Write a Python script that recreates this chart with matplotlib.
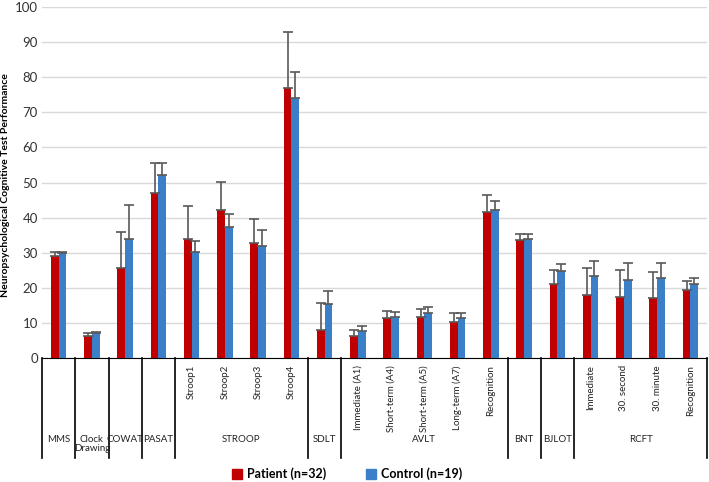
import matplotlib.pyplot as plt
from matplotlib.patches import Patch

plt.rcParams['font.family'] = ['Lato', 'DejaVu Sans']

# test names (one per bar pair) and their groups
sub_labels = ['', '', '', '',
              'Stroop1', 'Stroop2', 'Stroop3', 'Stroop4',
              '',
              'Immediate (A1)', 'Short-term (A4)', 'Short-term (A5)', 'Long-term (A7)', 'Recognition',
              '', '',
              'Immediate', '30. second', '30. minute', 'Recognition']
groups = ['MMS', 'Clock\nDrawing', 'COWAT', 'PASAT', 'STROOP', 'SDLT', 'AVLT', 'BNT', 'BJLOT', 'RCFT']
group_sizes = [1, 1, 1, 1, 4, 1, 5, 1, 1, 4]

patient = [29.2, 6.4, 25.7, 47.1, 33.9, 42.3, 32.9, 77.0, 8.1,
           6.2, 11.3, 11.7, 10.3, 41.7, 33.6, 21.0, 17.9, 17.3, 17.2, 19.4]
patient_sd = [1.1, 0.7, 10.3, 8.5, 9.3, 7.8, 6.8, 15.9, 7.6,
              1.9, 2.1, 2.2, 2.4, 4.6, 1.8, 4.0, 7.6, 7.7, 7.4, 2.5]
control = [30.0, 7.1, 33.8, 52.0, 30.1, 37.3, 31.9, 74.1, 15.5,
           7.6, 11.8, 12.7, 11.3, 42.1, 34.0, 24.7, 23.4, 22.2, 22.8, 21.2]
control_sd = [0.3, 0.2, 9.8, 3.6, 3.1, 3.7, 4.6, 7.3, 3.6,
              1.4, 1.2, 1.7, 1.6, 2.5, 1.4, 2.2, 4.3, 4.9, 4.3, 1.7]

red = '#C00000'
blue = '#3A7FC8'

fig = plt.figure(figsize=(7.09, 4.82), dpi=100)
ax = fig.add_axes([42/709, 1 - 358/482, 665/709, 351/482])

n = len(patient)
x = list(range(n))
w = 0.23
err_kw = dict(ecolor='#595959', elinewidth=1.2, capsize=3.5, capthick=1.2)
ax.bar([i - w/2 for i in x], patient, w, color=red,
       yerr=[[0]*n, patient_sd], error_kw=err_kw, zorder=3)
ax.bar([i + w/2 for i in x], control, w, color=blue,
       yerr=[[0]*n, control_sd], error_kw=err_kw, zorder=3)

ax.set_xlim(-0.5, n - 0.5)
ax.set_ylim(0, 100)
ax.set_yticks(range(0, 101, 10))
ax.tick_params(axis='y', length=0, labelsize=9.5, pad=3, colors='#333333')
ax.set_xticks([])
ax.yaxis.grid(True, color='#d9d9d9', linewidth=1)
ax.set_axisbelow(True)
for s in ['top', 'right', 'left']:
    ax.spines[s].set_visible(False)
ax.spines['bottom'].set_color('black')
ax.set_ylabel('Neuropsychological Cognitive Test Performance', fontsize=7.5,
              fontweight='bold')
ax.yaxis.set_label_coords(-0.048, 0.493)

# table under the axis
tr = ax.get_xaxis_transform()
line_bottom = -0.285
start = 0
bounds = [-0.5]
for g, size in zip(groups, group_sizes):
    end = start + size
    bounds.append(end - 0.5)
    cx = (start + end - 1) / 2
    ax.text(cx, -0.22, g, transform=tr, ha='center', va='top',
            fontsize=7, color='#222222', linespacing=1.0)
    start = end
for b in bounds:
    ax.plot([b, b], [0, line_bottom], transform=tr, color='black',
            linewidth=1.2, clip_on=False)
for i, lab in enumerate(sub_labels):
    if lab:
        ax.text(i, -0.02, lab, transform=tr, rotation=90, ha='center', va='top',
                fontsize=7, color='#222222')

handles = [Patch(color=red, label='Patient (n=32)'),
           Patch(color=blue, label='Control (n=19)')]
leg = fig.legend(handles=handles, loc='center', bbox_to_anchor=(0.49, 1 - 474/482),
                 ncol=2, frameon=False, prop={'weight': 'bold', 'size': 9},
                 handlelength=0.8, handleheight=0.8, columnspacing=3.2, handletextpad=0.4)

fig.savefig('out.png', dpi=100)
